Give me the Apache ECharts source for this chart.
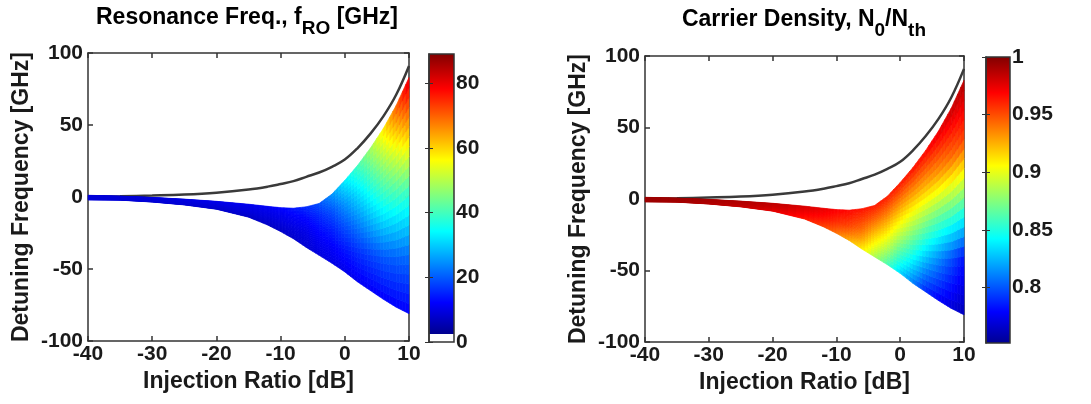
<!DOCTYPE html>
<html><head><meta charset="utf-8">
<script src="https://cdn.jsdelivr.net/npm/echarts@6/dist/echarts.min.js"></script>
<style>html,body{margin:0;padding:0;background:#fff}#c{width:1091px;height:404px}</style>
</head><body><div id="c"></div>
<script>
// ---------- data ----------
const injRatio = [-40,-35,-30,-25,-20,-15,-12,-10,-8,-6,-4,-2,0,2,4,6,8,10];
// black locking-boundary line [GHz]
const lockBoundary = [0.2,0.5,1.0,1.7,3.0,5.2,7.2,9.0,11,14,17,21,26,34,44,56,71,91];
// upper / lower edge of the coloured region [GHz]
const fillTop    = [1.2,0.6,-0.3,-1.5,-3,-5,-6.5,-7.4,-7.8,-6.8,-4.5,2,11.5,22,34,47.5,63.5,83];
const fillBottom = [-2,-2.2,-3.5,-5.5,-8.5,-14,-19.5,-24,-29,-35,-40.5,-46,-52,-59,-65,-71,-76.5,-81];
// relative position across the region (0 = lower edge, 1 = upper edge)
const rowFrac = [0,0.25,0.5,0.75,1];
// resonance frequency f_RO [GHz], per injRatio column, rows bottom -> top
const fRO = [
  [9,9,9,9,9],[9,9,9,9,9],[8.5,9,9,9,9.5],[8.5,9,9,9.5,10],[8,8.5,9,10,10.5],
  [7.5,8.5,9.5,10,11],[7.5,8.5,9.5,10.5,11.5],[7.5,8.5,10,11,12.5],[8,9,10.5,12,14],
  [8.5,9.5,11,13,16],[9.5,11,13,15.5,19],[10,12,15,19,25],[10.5,14,19,25,33],
  [11,16,23,31,40],[11.5,18,28,38,48],[12,20,33,45,58],[12,21,36,52,70],[12,22,38,60,82]
];
// carrier density N0/Nth, per injRatio column, rows bottom -> top
const carrier = [
  [0.993,0.993,0.993,0.993,0.993],[0.99,0.991,0.992,0.992,0.993],[0.987,0.988,0.989,0.99,0.99],
  [0.982,0.984,0.986,0.987,0.988],[0.975,0.978,0.981,0.983,0.985],[0.962,0.967,0.971,0.975,0.978],
  [0.952,0.959,0.965,0.97,0.974],[0.94,0.95,0.958,0.964,0.97],[0.925,0.94,0.952,0.96,0.967],
  [0.91,0.928,0.943,0.954,0.964],[0.885,0.905,0.925,0.945,0.962],[0.86,0.888,0.913,0.938,0.962],
  [0.832,0.865,0.898,0.93,0.963],[0.81,0.848,0.885,0.925,0.965],[0.788,0.83,0.875,0.925,0.968],
  [0.778,0.815,0.868,0.93,0.975],[0.77,0.8,0.868,0.94,0.982],[0.762,0.785,0.872,0.952,0.988]
];
const fROScale = [0, 89];          // colour-bar range
const fROWhiteBelow = 2.8;         // lowest colour-bar step is white
const carrierScale = [0.752, 1.0];
const fROTicks = [0,20,40,60,80];
const carrierTicks = [0.8,0.85,0.9,0.95,1];
const detuneRange = [-100, 100];
const injRange = [-40, 10];

// ---------- colour map (jet) ----------
const JET = [[0,[0,0,144]],[0.111,[0,0,255]],[0.365,[0,255,255]],[0.619,[255,255,0]],[0.873,[255,0,0]],[1,[128,0,0]]];
function jet(t){
  t = Math.max(0, Math.min(1, t));
  for (let k=1;k<JET.length;k++){
    if (t <= JET[k][0]){
      const a = JET[k-1], b = JET[k], u = (t-a[0])/(b[0]-a[0]);
      const c = a[1].map((v,m)=>Math.round(v+(b[1][m]-v)*u));
      return 'rgb('+c.join(',')+')';
    }
  }
  return 'rgb(128,0,0)';
}
function colorOf(v, range, whiteBelow){
  if (whiteBelow != null){
    if (v < whiteBelow) return '#ffffff';
    return jet((v-whiteBelow)/(range[1]-whiteBelow));
  }
  return jet((v-range[0])/(range[1]-range[0]));
}
function barStops(range, whiteBelow){
  const stops = [];
  let w0 = 0;
  if (whiteBelow != null){
    w0 = (whiteBelow-range[0])/(range[1]-range[0]);
    stops.push({offset:0,color:'#ffffff'},{offset:w0,color:'#ffffff'});
  }
  JET.forEach(s=>stops.push({offset:w0+s[0]*(1-w0), color:'rgb('+s[1].join(',')+')'}));
  return stops;
}

const FONT = 'Liberation Sans, Arial, Helvetica, sans-serif';
const AX = '#333';
const lab = (size)=>({fontFamily:FONT,fontWeight:'bold',fontSize:size,color:'#1a1a1a'});

function fillSeries(ax, values, range, whiteBelow){
  const data = [];
  for (let i=0;i<injRatio.length-1;i++)
    for (let j=0;j<rowFrac.length-1;j++) data.push([injRatio[i], injRatio[i+1], i, j]);
  return {
    type:'custom', xAxisIndex:ax, yAxisIndex:ax, data, silent:true, z:3,
    renderItem(params, api){
      const i = api.value(2), j = api.value(3);
      const NS = 4, NR = 6, children = [];
      const corner = (u,w)=>{
        const x = injRatio[i] + (injRatio[i+1]-injRatio[i])*u;
        const yb = fillBottom[i] + (fillBottom[i+1]-fillBottom[i])*u;
        const yt = fillTop[i] + (fillTop[i+1]-fillTop[i])*u;
        const f = rowFrac[j] + (rowFrac[j+1]-rowFrac[j])*w;
        return api.coord([x, yb + (yt-yb)*f]);
      };
      const val = (u,w)=>{
        const a = values[i][j]*(1-u) + values[i+1][j]*u;
        const b = values[i][j+1]*(1-u) + values[i+1][j+1]*u;
        return a*(1-w) + b*w;
      };
      for (let a=0;a<NS;a++) for (let b=0;b<NR;b++){
        const u0=a/NS,u1=(a+1)/NS,w0=b/NR,w1=(b+1)/NR;
        const col = colorOf(val((u0+u1)/2,(w0+w1)/2), range, whiteBelow);
        children.push({type:'polygon', shape:{points:[corner(u0,w0),corner(u1,w0),corner(u1,w1),corner(u0,w1)]},
          style:{fill:col, stroke:col, lineWidth:0.7}});
      }
      return {type:'group', children};
    }
  };
}
function barSeries(ax, range, whiteBelow){
  return {
    type:'custom', xAxisIndex:ax, yAxisIndex:ax, data:[[0,1]], silent:true, z:3,
    renderItem(params, api){
      const p0 = api.coord([0, range[1]]), p1 = api.coord([1, range[0]]);
      return {type:'rect', shape:{x:p0[0], y:p0[1], width:p1[0]-p0[0], height:p1[1]-p0[1]},
        style:{fill:new echarts.graphic.LinearGradient(0,1,0,0, barStops(range, whiteBelow)), stroke:AX, lineWidth:1.5}};
    }
  };
}
function lineSeries(ax){
  return {type:'line', xAxisIndex:ax, yAxisIndex:ax, data: injRatio.map((x,k)=>[x, lockBoundary[k]]),
    smooth:0.4, symbol:'none', silent:true, z:2, lineStyle:{color:'#3a3a3a', width:2.5}};
}

const grids = [
  {left:88, top:53, width:321, height:288},
  {left:429, top:54, width:25, height:288},
  {left:645, top:56, width:319, height:286},
  {left:986, top:57, width:24, height:286}
].map(g=>Object.assign({containLabel:false, outerBoundsMode:'none'}, g));

const mainX = (g)=>({gridIndex:g, type:'value', min:injRange[0], max:injRange[1], interval:10, position:'bottom',
    axisLine:{onZero:false, lineStyle:{color:AX, width:1.5}}, axisTick:{inside:true, length:5, lineStyle:{color:AX, width:1.5}},
    axisLabel:Object.assign({margin:3}, lab(21)), splitLine:{show:false},
    name:'Injection Ratio [dB]', nameLocation:'middle', nameGap:25, nameTextStyle:lab(23)});
const mainY = (g)=>({gridIndex:g, type:'value', min:detuneRange[0], max:detuneRange[1], interval:50, position:'left',
    axisLine:{onZero:false, lineStyle:{color:AX, width:1.5}}, axisTick:{inside:true, length:5, lineStyle:{color:AX, width:1.5}},
    axisLabel:Object.assign({margin:5}, lab(21)), splitLine:{show:false},
    name:'Detuning Frequency [GHz]', nameLocation:'middle', nameGap:55, nameRotate:90, nameTextStyle:lab(23)});
const frameX = (g)=>({gridIndex:g, type:'value', min:injRange[0], max:injRange[1], interval:10, position:'top',
    axisLine:{onZero:false, lineStyle:{color:AX, width:1.5}}, axisTick:{inside:true, length:5, lineStyle:{color:AX, width:1.5}},
    axisLabel:{show:false}, splitLine:{show:false}});
const frameY = (g)=>({gridIndex:g, type:'value', min:detuneRange[0], max:detuneRange[1], interval:50, position:'right',
    axisLine:{onZero:false, lineStyle:{color:AX, width:1.5}}, axisTick:{inside:true, length:5, lineStyle:{color:AX, width:1.5}},
    axisLabel:{show:false}, splitLine:{show:false}});
const barY = (g, range, ticks, fmt)=>({gridIndex:g, type:'value', min:range[0], max:range[1], position:'right',
    axisLine:{lineStyle:{color:AX, width:1.5}}, axisTick:{inside:true, length:4, customValues:ticks, lineStyle:{color:AX}},
    axisLabel:Object.assign({margin:2, customValues:ticks, formatter:fmt}, lab(21)), splitLine:{show:false}, z:5});
const barYLeft = (g, range, ticks)=>({gridIndex:g, type:'value', min:range[0], max:range[1], position:'left',
    axisLine:{show:false}, axisTick:{inside:true, length:4, customValues:ticks, lineStyle:{color:AX}},
    axisLabel:{show:false}, splitLine:{show:false}, z:5});

const xs = [mainX(0), {gridIndex:1, type:'value', min:0, max:1, show:false}, mainX(2), {gridIndex:3, type:'value', min:0, max:1, show:false}, frameX(0), frameX(2)];
const ys = [mainY(0), barY(1, fROScale, fROTicks, v=>String(Math.round(v))), mainY(2), barY(3, carrierScale, carrierTicks, v=>String(+v.toFixed(2))),
            frameY(0), frameY(2), barYLeft(1, fROScale, fROTicks), barYLeft(3, carrierScale, carrierTicks)];

const rich = {
  t:{fontFamily:FONT, fontWeight:'bold', fontSize:23, color:'#1a1a1a', lineHeight:25, verticalAlign:'top'},
  s:{fontFamily:FONT, fontWeight:'bold', fontSize:19, color:'#1a1a1a', lineHeight:19, verticalAlign:'top', padding:[13,0,0,0]}
};

const chart = echarts.init(document.getElementById('c'), null, {renderer:'canvas'});
chart.setOption({
  animation:false,
  backgroundColor:'#fff',
  grid:grids,
  xAxis:xs, yAxis:ys,
  graphic:[
    {type:'text', x:247, y:6, style:{text:'{t|Resonance Freq., f}{s|RO}{t| [GHz]}', rich, align:'center', verticalAlign:'top'}},
    {type:'text', x:804, y:8, style:{text:'{t|Carrier Density, N}{s|0}{t|/N}{s|th}', rich, align:'center', verticalAlign:'top'}}
  ],
  series:[
    lineSeries(0),
    fillSeries(0, fRO, fROScale, fROWhiteBelow),
    barSeries(1, fROScale, fROWhiteBelow),
    lineSeries(2),
    fillSeries(2, carrier, carrierScale, null),
    barSeries(3, carrierScale, null)
  ]
});
</script></body></html>
